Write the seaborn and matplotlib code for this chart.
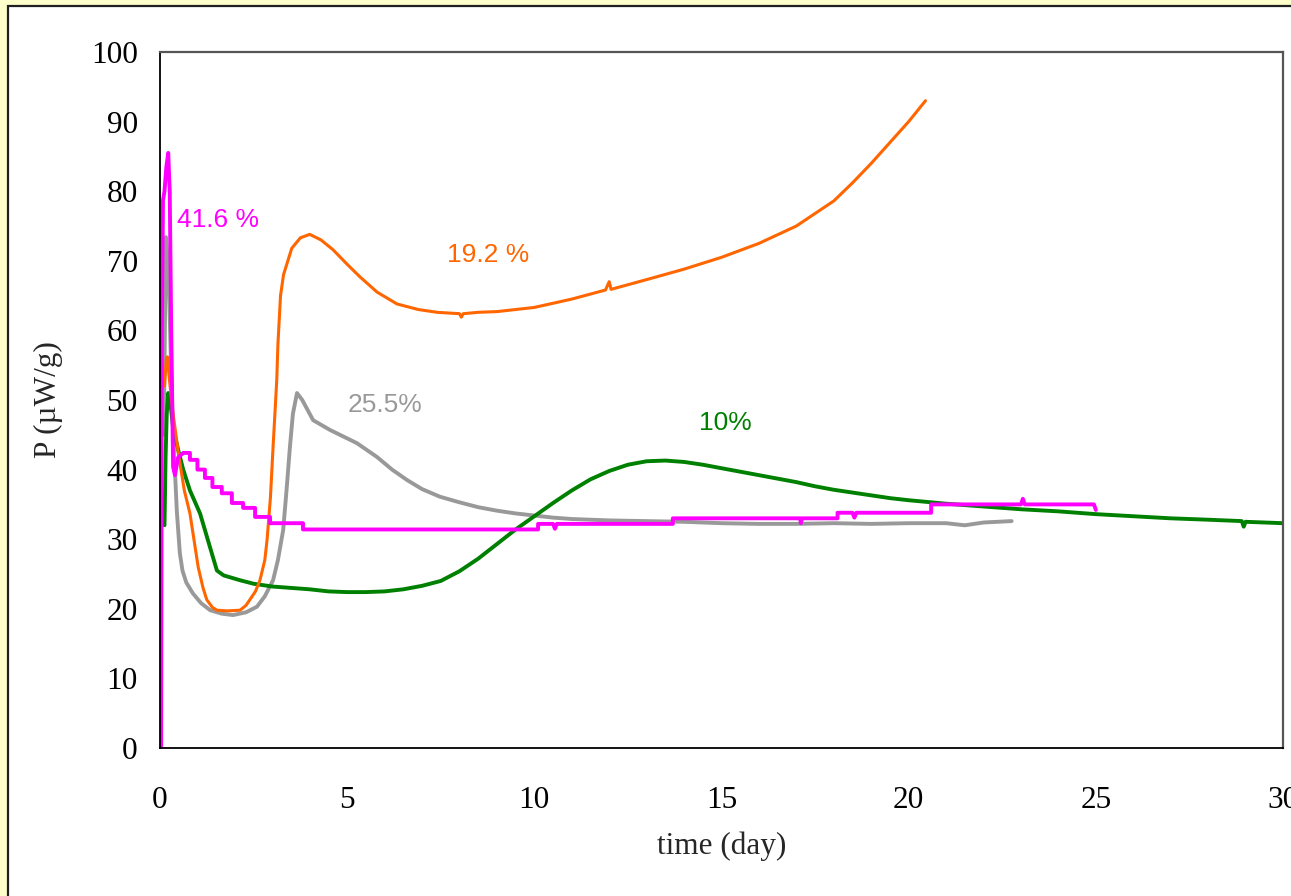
import numpy as np
import pandas as pd
import matplotlib
matplotlib.use("Agg")
import matplotlib.pyplot as plt
from matplotlib.patches import Rectangle
import seaborn as sns

# ---- heat-flow curves, P (uW/g) against time (day) ----
t_10 = [0.12, 0.15, 0.18, 0.22, 0.27, 0.35, 0.5, 0.62, 0.8, 1.07, 1.3, 1.52, 1.7, 2.14,
        2.5, 3.0, 3.5, 4.0, 4.5, 5.0, 5.5, 6.0, 6.5, 7.0, 7.5, 8.0, 8.5, 9.0, 9.5, 10.0,
        10.5, 11.0, 11.5, 12.0, 12.5, 13.0, 13.5, 14.0, 14.5, 15.0, 15.5, 16.0, 16.5,
        17.0, 17.5, 18.0, 18.5, 19.0, 19.5, 20.0, 21.0, 22.0, 23.0, 24.0, 25.0, 26.0,
        27.0, 28.0, 28.9, 28.95, 29.0, 30.0]
p_10 = [32.0, 42.0, 48.0, 51.0, 50.0, 46.0, 42.5, 40.0, 37.0, 33.7, 29.5, 25.5, 24.8, 24.1,
        23.6, 23.2, 23.0, 22.8, 22.5, 22.4, 22.4, 22.5, 22.8, 23.3, 24.0, 25.4, 27.2, 29.3, 31.4, 33.3,
        35.2, 37.0, 38.6, 39.8, 40.7, 41.2, 41.3, 41.1, 40.7, 40.2, 39.7, 39.2, 38.7,
        38.2, 37.6, 37.1, 36.7, 36.3, 35.9, 35.6, 35.1, 34.7, 34.3, 34.0, 33.6, 33.3,
        33.0, 32.8, 32.6, 31.8, 32.5, 32.3]

t_19 = [0.12, 0.17, 0.2, 0.25, 0.35, 0.5, 0.65, 0.8, 1.02, 1.15, 1.25, 1.4, 1.52, 1.8,
        2.14, 2.3, 2.4, 2.55, 2.67, 2.8, 2.86, 2.95, 3.02, 3.08, 3.12, 3.15, 3.22, 3.3,
        3.52, 3.75, 4.0, 4.3, 4.62, 5.0, 5.34, 5.8, 6.33, 6.9, 7.4, 8.0, 8.05, 8.1, 8.5,
        9.0, 10.0, 11.0, 11.9, 12.0, 12.05, 13.0, 14.0, 15.0, 16.0, 17.0, 18.0, 18.5,
        19.0, 19.5, 20.0, 20.45]
p_19 = [52.0, 56.0, 56.2, 53.0, 48.0, 42.0, 37.0, 33.7, 26.0, 23.0, 21.3, 20.2, 19.8, 19.7,
        19.8, 20.5, 21.3, 22.5, 24.1, 27.0, 29.9, 36.0, 43.2, 49.0, 53.0, 58.0, 65.0, 68.0,
        71.8, 73.3, 73.8, 73.0, 71.6, 69.5, 67.7, 65.5, 63.8, 63.0, 62.6, 62.4, 61.9, 62.4, 62.6,
        62.7, 63.3, 64.5, 65.8, 67.0, 65.9, 67.3, 68.8, 70.5, 72.5, 75.0, 78.6, 81.2,
        84.0, 87.0, 90.0, 93.0]

t_25 = [0.1, 0.14, 0.16, 0.2, 0.24, 0.28, 0.32, 0.38, 0.45, 0.53, 0.6, 0.7, 0.88, 1.1, 1.34,
        1.65, 1.95, 2.3, 2.59, 2.8, 3.02, 3.15, 3.29, 3.38, 3.47, 3.55, 3.66, 3.8, 4.09,
        4.54, 5.26, 5.8, 6.2, 6.6, 7.0, 7.48, 8.0, 8.5, 9.0, 9.5, 10.0, 10.5, 11.0, 12.0,
        13.0, 14.0, 15.0, 16.0, 17.0, 18.0, 19.0, 20.0, 21.0, 21.5, 22.0, 22.75]
p_25 = [45.0, 65.0, 73.4, 70.5, 66.0, 58.0, 50.0, 42.0, 34.0, 28.0, 25.5, 23.8, 22.2, 20.8, 19.8,
        19.3, 19.1, 19.5, 20.3, 21.8, 24.1, 27.0, 31.3, 37.0, 43.2, 48.0, 51.0, 50.0, 47.1,
        45.7, 43.8, 41.8, 40.0, 38.5, 37.2, 36.1, 35.3, 34.6, 34.1, 33.7, 33.4, 33.1, 32.9, 32.7,
        32.6, 32.5, 32.3, 32.2, 32.2, 32.3, 32.2, 32.3, 32.3, 32.0, 32.4, 32.6]

t_41 = [0.03, 0.05, 0.08, 0.12, 0.17, 0.22, 0.26, 0.3, 0.35, 0.4, 0.48, 0.62,
        0.8, 0.8, 1.0, 1.0, 1.2, 1.2, 1.4, 1.4, 1.65, 1.65, 1.92, 1.92, 2.22, 2.22,
        2.54, 2.54, 2.94, 2.94, 3.82, 3.82, 10.1, 10.1, 10.5, 10.55, 10.6, 13.7, 13.7,
        17.1, 17.12, 17.15, 18.1, 18.1, 18.5, 18.55, 18.6, 20.6, 20.6, 23.0, 23.05,
        23.1, 24.95, 25.0]
p_41 = [0.0, 60.0, 78.7, 80.0, 83.5, 85.5, 80.0, 60.0, 40.4, 39.2, 41.7, 42.4,
        42.4, 41.4, 41.4, 40.0, 40.0, 38.8, 38.8, 37.5, 37.5, 36.6, 36.6, 35.2, 35.2, 34.5,
        34.5, 33.2, 33.2, 32.3, 32.3, 31.4, 31.4, 32.2, 32.2, 31.5, 32.2, 32.2, 33.0,
        33.0, 32.3, 33.0, 33.0, 33.8, 33.8, 33.1, 33.8, 33.8, 35.0, 35.0, 35.8,
        35.0, 35.0, 34.2]

series_names = ["10%", "19.2 %", "25.5%", "41.6 %"]
series_colors = ["#008000", "#FF6600", "#999999", "#FF00FF"]
series_widths = [2.8, 2.2, 2.8, 2.8]
series_t = [t_10, t_19, t_25, t_41]
series_p = [p_10, p_19, p_25, p_41]
draw_order = [2, 0, 1, 3]

# label anchors (day, uW/g)
label_pos = {"10%": (15.1, 46.7), "19.2 %": (8.76, 70.8),
             "25.5%": (6.0, 49.3), "41.6 %": (1.55, 75.9)}

x_ticks = [0, 5, 10, 15, 20, 25, 30]
y_ticks = [0, 10, 20, 30, 40, 50, 60, 70, 80, 90, 100]

frames = []
for name, t, p in zip(series_names, series_t, series_p):
    frames.append(pd.DataFrame({"time": t, "P": p, "series": name,
                                "idx": np.arange(len(t))}))
df = pd.concat(frames, ignore_index=True)

sns.set_style("white")
plt.rcParams["font.family"] = ["Liberation Serif", "DejaVu Serif"]

W, H = 1291, 896
fig = plt.figure(figsize=(W / 100, H / 100), dpi=100, facecolor="#FFFFCC")

# white chart panel with dark frame, kept behind the axes
panel = Rectangle((8 / W, -0.05), 1.2, 1.05 - 6 / H,
                  transform=fig.transFigure, facecolor="white",
                  edgecolor="#202020", lw=1.6, zorder=-10)
fig.patches.append(panel)

ax = fig.add_axes([160 / W, 1 - 748 / H, (1283 - 160) / W, (748 - 52) / H])
ax.set_zorder(5)
ax.set_facecolor("white")

for i in draw_order:
    name = series_names[i]
    sub = df[df["series"] == name]
    sns.lineplot(data=sub, x="time", y="P", ax=ax, sort=False, estimator=None,
                 color=series_colors[i], lw=series_widths[i], legend=False)

for i, name in enumerate(series_names):
    x, y = label_pos[name]
    ax.text(x, y, name, color=series_colors[i], fontsize=19,
            family=["Liberation Sans", "DejaVu Sans"], ha="center", va="center")

ax.set_xlim(0, 30)
ax.set_ylim(0, 100)
ax.set_xticks(x_ticks)
ax.set_yticks(y_ticks)
ax.set_xticklabels([str(v) for v in x_ticks])
ax.set_yticklabels([str(v) for v in y_ticks])
ax.tick_params(axis="both", direction="out", length=7, width=1.1, colors="black",
               labelsize=22.5)
ax.tick_params(axis="x", pad=20)
ax.tick_params(axis="y", pad=9)

ax.set_xlabel("time (day)", fontsize=22.5, labelpad=12)
ax.set_ylabel("P (\u00b5W/g)", fontsize=22.5, labelpad=20)

for side in ["left", "bottom"]:
    ax.spines[side].set_color("black")
    ax.spines[side].set_linewidth(1.3)
for side in ["top", "right"]:
    ax.spines[side].set_visible(True)
    ax.spines[side].set_color("#555555")
    ax.spines[side].set_linewidth(1.6)

fig.savefig("out.png", dpi=100, facecolor=fig.get_facecolor())
